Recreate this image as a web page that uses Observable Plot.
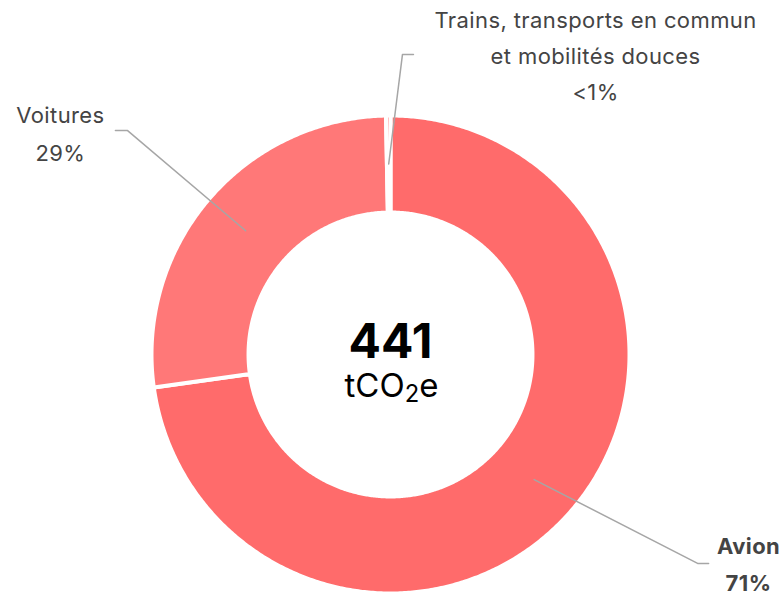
<!DOCTYPE html>
<html><head><meta charset="utf-8">
<script src="https://cdn.jsdelivr.net/npm/d3@7"></script>
<script src="https://cdn.jsdelivr.net/npm/@observablehq/plot@0.6"></script>
<style>body{margin:0;background:#fff;} #chart svg{display:block;} .lbl text{letter-spacing:0.4px;}</style>
</head><body><div id="chart"></div>
<script>
// ---- data ----
const categories = ["Avion", "Voitures", "Trains, transports en commun et mobilités douces"];
const values = [72.8, 26.9, 0.3];
const percentLabels = ["71%", "29%", "<1%"];
const labelLines = [["Avion"], ["Voitures"], ["Trains, transports en commun", "et mobilités douces"]];
const totalValue = "441";
const unitLabel = "tCO₂e";
const colors = ["#FF6B6B", "#FF7878", "#FF7878"];

// ---- layout (data space, radius 1 = outer edge) ----
const innerR = 0.594, midR = 0.797;
const elbows = [[[1.285, -0.874], [1.331, -0.874]], [[-1.100, 0.937], [-1.151, 0.937]], [[0.050, 1.255], [0.096, 1.255]]];
const labelPos = [[1.498, -0.988, 1.65, "bold"], [-1.381, 0.808, 1.75, "normal"], [0.858, 1.063, 1.65, "normal"]];

const total = d3.sum(values);
let acc = 0;
const slices = values.map((v, i) => {
  const a0 = acc / total * 2 * Math.PI; acc += v;
  const a1 = acc / total * 2 * Math.PI;
  return {cat: categories[i], a0, a1, mid: (a0 + a1) / 2};
});
const polyPts = [];
slices.forEach(s => {
  const n = Math.max(2, Math.ceil((s.a1 - s.a0) / (Math.PI / 360)));
  for (let k = 0; k <= n; k++) { const a = s.a0 + (s.a1 - s.a0) * k / n; polyPts.push({cat: s.cat, x: Math.sin(a), y: Math.cos(a)}); }
  for (let k = n; k >= 0; k--) { const a = s.a0 + (s.a1 - s.a0) * k / n; polyPts.push({cat: s.cat, x: innerR * Math.sin(a), y: innerR * Math.cos(a)}); }
});
const leaderPts = [];
slices.forEach((s, i) => {
  leaderPts.push({cat: s.cat, x: midR * Math.sin(s.mid), y: midR * Math.cos(s.mid)});
  elbows[i].forEach(([x, y]) => leaderPts.push({cat: s.cat, x, y}));
});
const labels = slices.map((s, i) => ({
  text: labelLines[i].concat([percentLabels[i]]).join("\n"),
  x: labelPos[i][0], y: labelPos[i][1], lh: labelPos[i][2], fw: labelPos[i][3]
}));

const R = 239, cx = 390, cy = 354;
const chart = Plot.plot({
  width: 783, height: 596, margin: 0,
  style: {fontFamily: "Inter, 'Noto Sans', sans-serif", background: "#fff"},
  x: {domain: [-1, 1], range: [cx - R, cx + R], axis: null},
  y: {domain: [-1, 1], range: [cy + R, cy - R], axis: null},
  color: {domain: categories, range: colors},
  marks: [
    Plot.line(polyPts, {x: "x", y: "y", z: "cat", fill: "cat", stroke: "white", strokeWidth: 4, curve: "linear-closed"}),
    Plot.line(leaderPts, {x: "x", y: "y", z: "cat", stroke: "#A6A6A6", strokeWidth: 1.5}),
    ...labels.map(l => Plot.text([l], {x: "x", y: "y", text: "text", lineAnchor: "bottom", textAnchor: "middle",
      lineHeight: l.lh, fontSize: 22, fontWeight: l.fw, fill: "#444", className: "lbl"})),
    Plot.text([totalValue], {x: 0, y: -0.0126, text: d => d, lineAnchor: "bottom", fontSize: 48, fontWeight: "bold", fill: "#000"}),
    Plot.text([unitLabel], {x: 0.004, y: -0.176, text: d => d, lineAnchor: "bottom", fontSize: 33, fill: "#000", className: "unit"})
  ]
});
// render the "2" of tCO₂e as a real subscript
chart.querySelectorAll("text").forEach(t => {
  if (t.textContent === unitLabel) {
    const [pre, post] = unitLabel.split("₂");
    const ns = "http://www.w3.org/2000/svg";
    t.textContent = pre;
    const sub = document.createElementNS(ns, "tspan");
    sub.setAttribute("font-size", "72%"); sub.setAttribute("dy", "0.22em"); sub.textContent = "2";
    const rest = document.createElementNS(ns, "tspan");
    rest.setAttribute("dy", "-0.16em"); rest.textContent = post;
    t.appendChild(sub); t.appendChild(rest);
  }
});
document.getElementById("chart").appendChild(chart);
</script>
</body></html>
